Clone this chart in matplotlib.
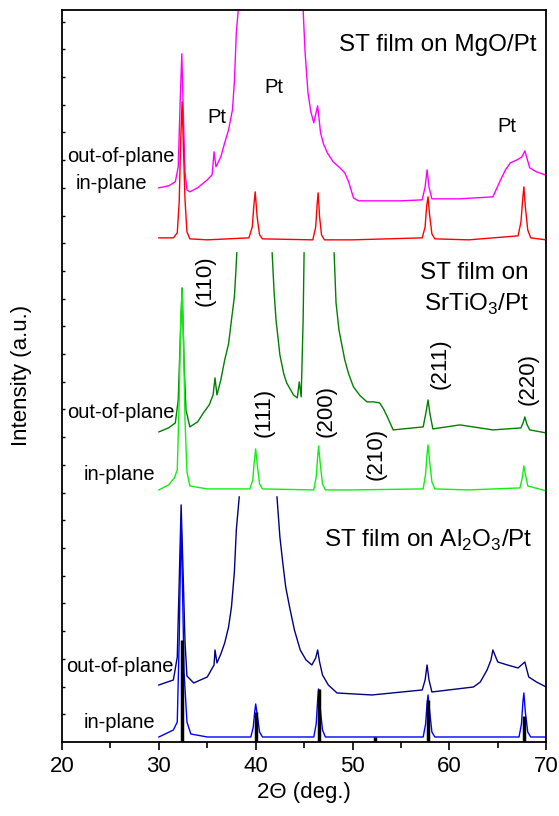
import matplotlib
matplotlib.use('Agg')
import matplotlib.pyplot as plt
import numpy as np

plt.rcParams['font.family'] = ['Liberation Sans', 'DejaVu Sans']
plt.rcParams['mathtext.fontset'] = 'custom'
plt.rcParams['mathtext.rm'] = 'Liberation Sans'

nan = np.nan

# ST film on MgO/Pt
mgo_out_x = [30.0, 31.0, 31.7, 32.0, 32.2, 32.37, 32.55, 32.7, 32.9, 33.2, 34.0, 35.0, 35.5, 35.7, 35.9,
             36.4, 36.8, 37.2, 37.6, 37.8, 38.0, 38.2, 40.5,
             44.9, 45.1, 45.4, 45.7, 46.0, 46.4, 46.7, 47.0, 47.4, 48.0, 48.7, 49.2, 49.6, 50.1, 50.6,
             52.0, 55.0, 57.2, 57.5, 57.7, 57.9, 58.2, 61.0, 64.5, 65.2, 65.8, 66.3, 67.0, 67.5, 67.8,
             68.3, 69.0, 69.9]
mgo_out_y = [554, 556, 560, 575, 640, 688, 620, 570, 552, 550, 554, 562, 567, 590, 575,
             585, 599, 612, 632, 660, 709, 732, 3000,
             732, 690, 649, 630, 619, 636, 609, 598, 589, 580, 574, 569, 560, 544, 541,
             541, 541, 542, 555, 572, 555, 543, 543, 545, 560, 572, 579, 582, 585, 591,
             574, 570, 567]
mgo_in_x = [30, 31.5, 31.9, 32.1, 32.25, 32.4, 32.55, 32.7, 32.9, 33.2, 35, 39.3, 39.65, 39.8, 39.95,
            40.15, 40.4, 40.7, 45.9, 46.2, 46.35, 46.45, 46.6, 46.8, 47.1, 50, 57.2, 57.5, 57.65, 57.8,
            57.95, 58.2, 58.5, 62, 67.1, 67.4, 67.6, 67.7, 67.85, 68.1, 68.4, 70]
mgo_in_y = [504, 504, 509, 540, 600, 640, 590, 542, 510, 503, 502, 504, 515, 535, 550,
            525, 507, 503, 502, 515, 538, 549, 525, 507, 502, 502, 504, 515, 535, 545,
            528, 508, 503, 502, 506, 520, 545, 555, 535, 512, 504, 502]

# ST film on SrTiO3/Pt
sto_out_x = [30, 31, 31.7, 32.0, 32.2, 32.4, 32.6, 32.8, 33.2, 34.0, 34.6, 35.2, 35.6, 35.8, 36.0,
             36.4, 36.8, 37.2, 37.5, 37.8, 37.95, 38.05, nan,
             41.7, 41.9, 42.1, 42.5, 42.9, 43.2, 43.9, 44.3, 44.5, 44.7, 44.9, 45.0, nan,
             48.1, 48.3, 48.6, 49.2, 49.6, 50.1, 50.8, 51.5, 52.2, 52.8, 53.2, 53.6, 54.2,
             57.3, 57.6, 57.8, 58.0, 58.3, 61.1, 64.5, 67.4, 67.65, 67.8, 68.0, 68.3, 70]
sto_out_y = [310, 314, 319, 342, 400, 454, 380, 332, 315, 320, 329, 337, 347, 364, 347,
             362, 382, 398, 422, 445, 470, 489, nan,
             489, 450, 422, 387, 368, 359, 347, 344, 360, 345, 422, 489, nan,
             489, 439, 412, 382, 368, 355, 346, 340, 340, 339, 333, 325, 312,
             315, 330, 342, 328, 313, 317, 312, 314, 320, 325, 318, 312, 309]
sto_in_x = [30, 31, 31.6, 31.9, 32.1, 32.25, 32.4, 32.55, 32.7, 32.9, 33.2, 35, 39.4, 39.7, 39.85,
            40.0, 40.15, 40.4, 40.7, 46.0, 46.25, 46.4, 46.5, 46.65, 46.9, 47.2, 50, 57.3, 57.55,
            57.7, 57.8, 57.95, 58.2, 58.5, 62, 67.3, 67.55, 67.7, 67.85, 68.1, 70]
sto_in_y = [252, 257, 264, 272, 342, 420, 452, 400, 322, 270, 256, 253, 253, 262, 280,
            293, 278, 258, 253, 252, 265, 285, 296, 280, 258, 252, 252, 253, 268,
            288, 297, 282, 260, 253, 252, 254, 265, 276, 268, 256, 251]

# ST film on Al2O3/Pt
alo_out_x = [30, 31.5, 31.9, 32.1, 32.3, 32.5, 32.7, 32.9, 33.6, 35.0, 35.7, 35.8, 36.0, 36.4,
             36.8, 37.2, 37.5, 37.8, 38.0, 38.3, nan,
             42.2, 42.5, 42.8, 43.1, 43.5, 44.0, 44.6, 45.2, 45.8, 46.2, 46.4, 46.6, 46.9, 47.5,
             48.4, 52, 57.2, 57.5, 57.7, 57.9, 58.2, 62.5, 63.2, 63.9, 64.3, 64.5, 65.0, 66.0,
             67.1, 67.8, 68.2, 69.0, 70]
alo_out_y = [57, 62, 85, 160, 237, 170, 100, 66, 59, 65, 77, 92, 79, 88,
             99, 115, 135, 170, 212, 245, nan,
             245, 205, 179, 155, 135, 112, 92, 82, 77, 84, 92, 80, 67, 57,
             49, 47, 52, 62, 77, 62, 50, 55, 60, 72, 82, 92, 80, 77,
             74, 80, 65, 60, 55]
alo_in_x = [30, 31.5, 31.9, 32.1, 32.3, 32.45, 32.6, 32.9, 33.3, 35, 39.5, 39.75, 39.9, 40.0,
            40.15, 40.4, 40.7, 46.0, 46.25, 46.4, 46.5, 46.65, 46.9, 47.2, 50, 57.3, 57.55, 57.7,
            57.8, 57.95, 58.2, 58.5, 62, 67.2, 67.45, 67.6, 67.7, 67.85, 68.1, 68.4, 70]
alo_in_y = [5, 12, 20, 102, 222, 150, 70, 20, 8, 5, 5, 15, 30, 38,
            28, 10, 5, 5, 18, 42, 53, 35, 12, 5, 5, 5, 18, 38,
            47, 32, 10, 5, 5, 5, 18, 40, 49, 30, 10, 5, 5]

# reference pattern (black bars)
ref_x = [32.4, 40.0, 46.5, 52.3, 57.8, 67.7]
ref_h = [102, 30, 53, 5, 42, 26]

fig = plt.figure(figsize=(5.59, 8.16), dpi=100)
ax = fig.add_axes([0.111, 0.0907, 0.866, 0.8973])

ax.plot(mgo_out_x, mgo_out_y, color='#ff00ff', lw=1)
ax.plot(mgo_in_x, mgo_in_y, color='#ff0000', lw=1)
ax.plot(sto_out_x, sto_out_y, color='#008000', lw=1)
ax.plot(sto_in_x, sto_in_y, color='#10f010', lw=1)
ax.plot(alo_out_x, alo_out_y, color='#000080', lw=1)
ax.plot(alo_in_x, alo_in_y, color='#0000ff', lw=1)
ax.vlines(ref_x, 0, ref_h, color='k', lw=2.5)

ax.set_xlim(20, 70)
ax.set_ylim(0, 732)
ax.set_xticks(np.arange(20, 71, 10))
ax.set_xticks(np.arange(25, 70, 10), minor=True)
ax.set_yticks(np.arange(27.7, 732, 27.7))
ax.set_yticklabels([])
ax.tick_params(axis='x', which='major', direction='out', length=6, width=1.2, labelsize=16, pad=4)
ax.tick_params(axis='x', which='minor', direction='out', length=4, width=1.2)
ax.tick_params(axis='y', direction='in', length=2.5, width=1)
for s in ax.spines.values():
    s.set_linewidth(1.3)

ax.set_xlabel('2\u0398 (deg.)', fontsize=16, labelpad=4)
ax.set_ylabel('Intensity (a.u.)', fontsize=16, labelpad=18)

fs = 14.5
# panel titles
ax.text(69.0, 697, 'ST film on MgO/Pt', fontsize=17.5, ha='right', va='center')
ax.text(68.2, 469, 'ST film on', fontsize=17.5, ha='right', va='center')
ax.text(68.2, 437, 'SrTiO$_3$/Pt', fontsize=17.5, ha='right', va='center')
ax.text(68.6, 202, 'ST film on Al$_2$O$_3$/Pt', fontsize=17.5, ha='right', va='center')

# Pt labels
for px, py, t in [(36.0, 624, 'Pt'), (41.9, 654, 'Pt'), (65.9, 615, 'Pt')]:
    ax.text(px, py, t, fontsize=fs, ha='center', va='center')

# out-of-plane / in-plane labels
for py, t, x0 in [(585, 'out-of-plane', 20.5), (558, 'in-plane', 21.4),
                  (329, 'out-of-plane', 20.5), (267, 'in-plane', 22.2),
                  (75, 'out-of-plane', 20.4), (19, 'in-plane', 22.2)]:
    ax.text(x0, py, t, fontsize=fs, ha='left', va='center')

# Miller indices
for px, py, t in [(34.8, 461, '(110)'), (40.9, 329, '(111)'), (47.3, 331, '(200)'),
                  (52.4, 288, '(210)'), (59.0, 378, '(211)'), (68.1, 363, '(220)')]:
    ax.text(px, py, t, fontsize=16, rotation=90, ha='center', va='center')

fig.savefig('out.png', dpi=100)
